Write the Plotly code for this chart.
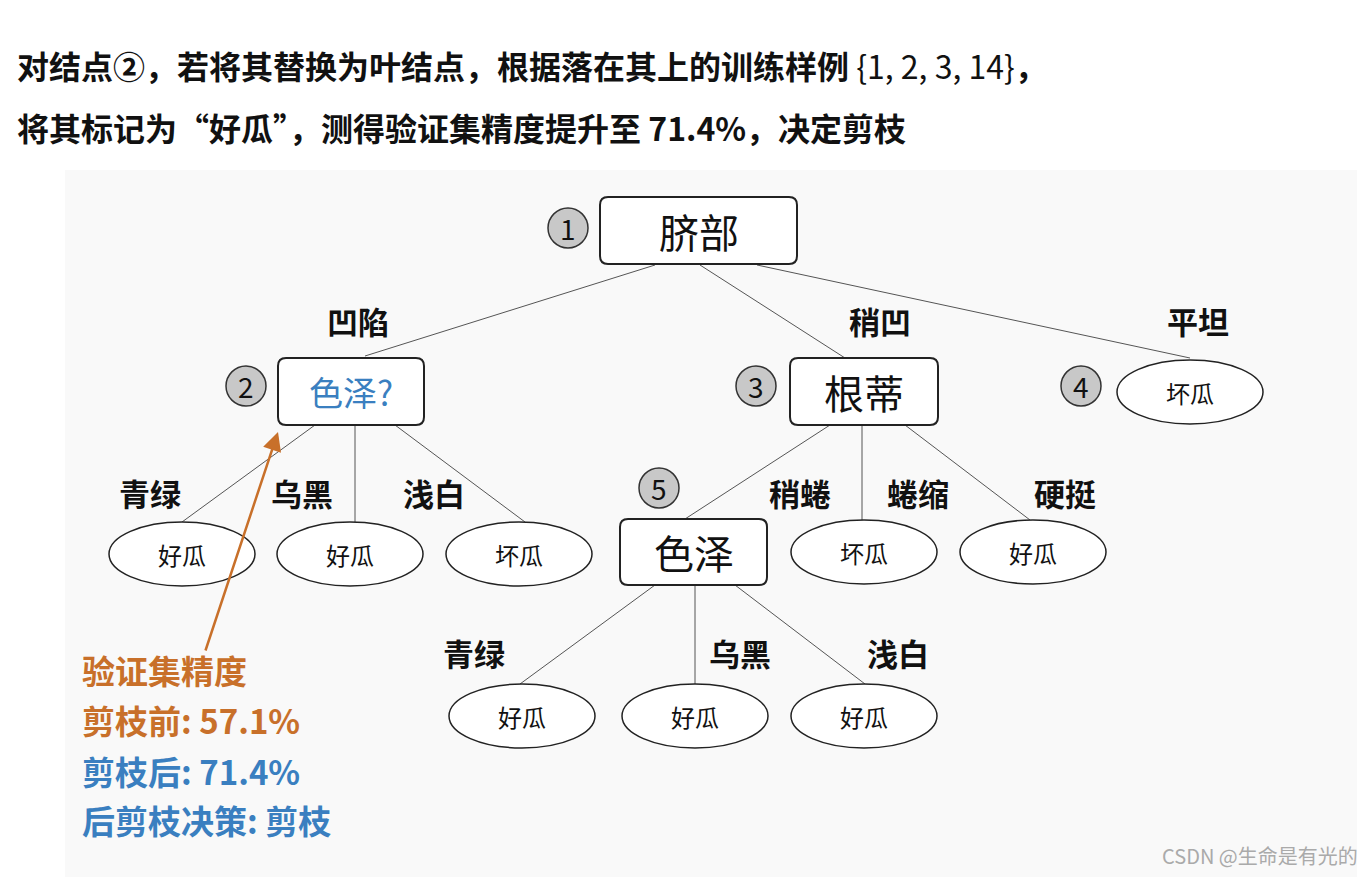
import plotly.graph_objects as go

FONT = "Noto Sans CJK SC, Noto Sans, sans-serif"
title_lines = ["<b>对结点②，若将其替换为叶结点，根据落在其上的训练样例</b> {1, 2, 3, 14}<b>，</b>",
               "<b>将其标记为“好瓜”，测得验证集精度提升至 71.4%，决定剪枝</b>"]

rect_labels = ["脐部", "色泽?", "根蒂", "色泽"]
rect_nums = ["1", "2", "3", "5"]
rect_boxes = [(600, 797, 197, 264), (278, 424, 358, 425), (790, 938, 358, 425), (620, 767, 519, 585)]
rect_circ = [(568, 228), (246, 386), (756, 386), (659, 488)]
rect_colors = ["#111", "#3a7fc0", "#111", "#111"]

leaf_labels = ["坏瓜", "好瓜", "好瓜", "坏瓜", "坏瓜", "好瓜", "好瓜", "好瓜", "好瓜"]
leaf_centers = [(1190, 392), (182, 554), (350, 554), (519, 554), (864, 552), (1033, 552),
                (522, 716), (695, 716), (864, 716)]
leaf_rx, leaf_ry = 73, 32

edges = [((655, 265), (365, 356)), ((700, 265), (845, 358)), ((757, 265), (1190, 358)),
         ((315, 425), (182, 522)), ((355, 425), (355, 522)), ((395, 425), (525, 522)),
         ((830, 425), (685, 519)), ((862, 425), (862, 520)), ((905, 425), (1030, 520)),
         ((655, 585), (520, 684)), ((695, 585), (695, 684)), ((735, 585), (865, 684))]

edge_labels = ["凹陷", "稍凹", "平坦", "青绿", "乌黑", "浅白", "稍蜷", "蜷缩", "硬挺", "青绿", "乌黑", "浅白"]
edge_label_pos = [(358, 320), (880, 320), (1198, 320), (150, 492), (302, 492), (434, 492),
                  (800, 492), (918, 492), (1065, 492), (474, 652), (740, 652), (898, 652)]

note_lines = ["<b>验证集精度</b>", "<b>剪枝前: 57.1%</b>", "<b>剪枝后: 71.4%</b>", "<b>后剪枝决策: 剪枝</b>"]
note_colors = ["#c8702a", "#c8702a", "#3a7fc0", "#3a7fc0"]
note_y = [670, 720, 771, 820]

fig = go.Figure()
shapes, ann = [], []
shapes.append(dict(type="rect", x0=65, x1=1373, y0=170, y1=885, fillcolor="#f9f9f9", line_width=0, layer="below"))

for (a, b) in edges:
    shapes.append(dict(type="line", x0=a[0], y0=a[1], x1=b[0], y1=b[1], line=dict(color="#555", width=1)))

for lab, num, bx, c, col in zip(rect_labels, rect_nums, rect_boxes, rect_circ, rect_colors):
    x0, x1, y0, y1 = bx
    r = 8
    path = (f"M {x0+r},{y0} L {x1-r},{y0} Q {x1},{y0} {x1},{y0+r} L {x1},{y1-r} Q {x1},{y1} {x1-r},{y1} "
            f"L {x0+r},{y1} Q {x0},{y1} {x0},{y1-r} L {x0},{y0+r} Q {x0},{y0} {x0+r},{y0} Z")
    shapes.append(dict(type="path", path=path, fillcolor="white", line=dict(color="#222", width=2)))
    ann.append(dict(x=(x0+x1)/2, y=(y0+y1)/2, text=lab, showarrow=False,
                    font=dict(size=40 if col == "#111" else 34, color=col, family=FONT)))
    shapes.append(dict(type="circle", x0=c[0]-20, x1=c[0]+20, y0=c[1]-20, y1=c[1]+20,
                       fillcolor="#c8c8c8", line=dict(color="#333", width=1.5)))
    ann.append(dict(x=c[0], y=c[1], text=num, showarrow=False, font=dict(size=28, color="#111", family=FONT)))

for lab, c in zip(leaf_labels, leaf_centers):
    shapes.append(dict(type="circle", x0=c[0]-leaf_rx, x1=c[0]+leaf_rx, y0=c[1]-leaf_ry, y1=c[1]+leaf_ry,
                       fillcolor="white", line=dict(color="#222", width=1.5)))
    ann.append(dict(x=c[0], y=c[1], text=lab, showarrow=False, font=dict(size=24, color="#111", family=FONT)))
shapes.append(dict(type="circle", x0=1061, x1=1101, y0=366, y1=406, fillcolor="#c8c8c8", line=dict(color="#333", width=1.5)))
ann.append(dict(x=1081, y=386, text="4", showarrow=False, font=dict(size=28, color="#111", family=FONT)))

for lab, p in zip(edge_labels, edge_label_pos):
    ann.append(dict(x=p[0], y=p[1], text="<b>" + lab + "</b>", showarrow=False,
                    font=dict(size=31, color="#111", family=FONT)))

for i, t in enumerate(title_lines):
    ann.append(dict(x=15, y=65 + 62*i, text=t, showarrow=False, xanchor="left",
                    font=dict(size=32, color="#111", family=FONT)))

for t, c, y in zip(note_lines, note_colors, note_y):
    ann.append(dict(x=80, y=y, text=t, showarrow=False, xanchor="left", font=dict(size=33, color=c, family=FONT)))

ann.append(dict(x=278, y=432, ax=205, ay=652, xref="x", yref="y", axref="x", ayref="y", text="",
                showarrow=True, arrowhead=2, arrowsize=1.5, arrowwidth=2.5, arrowcolor="#c8702a"))
ann.append(dict(x=1360, y=855, text="CSDN @生命是有光的", showarrow=False, xanchor="right",
                font=dict(size=20, color="#aaa", family=FONT)))

fig.update_layout(width=1365, height=877, margin=dict(l=0, r=0, t=0, b=0),
                  plot_bgcolor="white", paper_bgcolor="white", shapes=shapes, annotations=ann,
                  xaxis=dict(range=[8, 1373], visible=False, fixedrange=True),
                  yaxis=dict(range=[885, 8], visible=False, fixedrange=True), showlegend=False)
fig.write_html("out.html")
